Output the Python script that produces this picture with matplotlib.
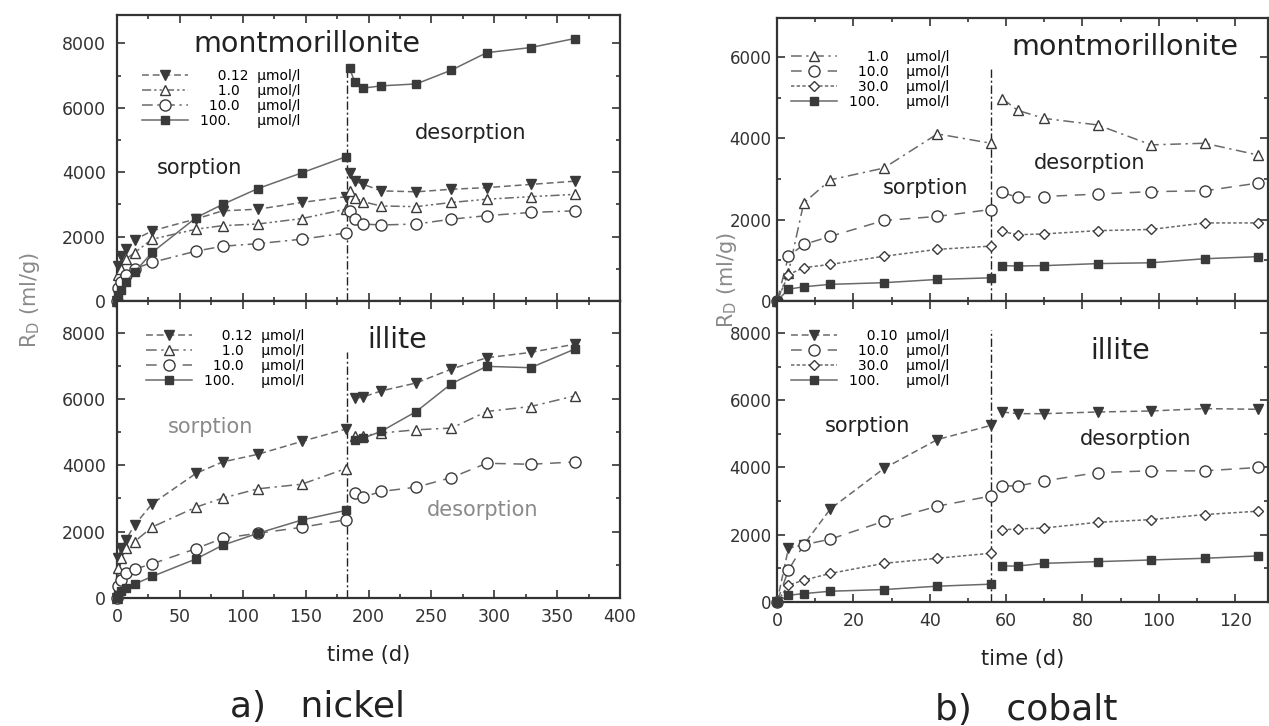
import numpy as np
import matplotlib.pyplot as plt
from matplotlib.lines import Line2D
from matplotlib.legend_handler import HandlerLine2D
from matplotlib.ticker import MultipleLocator

# ---- nickel: time axes (d) ----
ni_sorp_t = [0, 1, 3, 7, 14, 28, 63, 84, 112, 147, 182]
ni_mont_desorp_t = [185, 189, 196, 210, 238, 266, 294, 329, 364]
ni_ill_desorp_t = [189, 196, 210, 238, 266, 294, 329, 364]

# nickel / montmorillonite, R_D (ml/g)
ni_mont_conc = ["0.12", "1.0", "10.0", "100."]
ni_mont_sorp = [
    [0, 1100, 1400, 1600, 1900, 2180, 2550, 2800, 2850, 3060, 3240],
    [0, 800, 1000, 1300, 1500, 1920, 2230, 2340, 2390, 2560, 2850],
    [0, 400, 600, 800, 1000, 1200, 1550, 1700, 1780, 1920, 2110],
    [0, 200, 350, 600, 900, 1510, 2590, 3000, 3490, 3980, 4480],
]
ni_mont_desorp = [
    [3960, 3720, 3620, 3420, 3390, 3470, 3520, 3620, 3720],
    [3420, 3200, 3080, 2950, 2930, 3060, 3160, 3240, 3310],
    [2800, 2540, 2390, 2360, 2390, 2540, 2650, 2750, 2800],
    [7220, 6810, 6610, 6680, 6740, 7170, 7710, 7870, 8150],
]

# nickel / illite
ni_ill_conc = ["0.12", "1.0", "10.0", "100."]
ni_ill_sorp = [
    [0, 1200, 1500, 1750, 2200, 2840, 3760, 4100, 4330, 4720, 5090],
    [0, 900, 1200, 1500, 1700, 2140, 2740, 3010, 3290, 3430, 3900],
    [0, 350, 550, 750, 870, 1030, 1490, 1800, 1950, 2130, 2360],
    [0, 100, 200, 300, 420, 650, 1180, 1590, 1950, 2350, 2640],
]
ni_ill_desorp = [
    [6020, 6060, 6240, 6480, 6900, 7240, 7400, 7650],
    [4870, 4890, 4970, 5070, 5120, 5620, 5770, 6090],
    [3170, 3040, 3210, 3340, 3630, 4060, 4030, 4100],
    [4760, 4820, 5020, 5620, 6460, 6980, 6940, 7500],
]

# ---- cobalt ----
co_sorp_t = [0, 3, 7, 14, 28, 42, 56]
co_desorp_t = [59, 63, 70, 84, 98, 112, 126]

co_mont_conc = ["1.0", "10.0", "30.0", "100."]
co_mont_sorp = [
    [0, 700, 2410, 2980, 3270, 4110, 3880],
    [0, 1100, 1390, 1590, 1980, 2080, 2250],
    [0, 650, 820, 900, 1100, 1270, 1350],
    [0, 290, 350, 410, 450, 530, 570],
]
co_mont_desorp = [
    [4980, 4690, 4490, 4330, 3840, 3880, 3590],
    [2670, 2550, 2570, 2630, 2690, 2710, 2900],
    [1710, 1630, 1650, 1730, 1760, 1920, 1920],
    [870, 860, 870, 920, 940, 1040, 1090],
]

co_ill_conc = ["0.10", "10.0", "30.0", "100."]
co_ill_sorp = [
    [0, 1600, 1700, 2770, 3970, 4830, 5250],
    [0, 950, 1700, 1870, 2400, 2850, 3150],
    [0, 500, 650, 850, 1150, 1300, 1450],
    [0, 200, 250, 320, 370, 470, 530],
]
co_ill_desorp = [
    [5650, 5600, 5600, 5650, 5680, 5750, 5730],
    [3450, 3450, 3600, 3850, 3900, 3900, 4000],
    [2150, 2170, 2200, 2370, 2450, 2600, 2700],
    [1070, 1070, 1150, 1200, 1250, 1300, 1370],
]

LINE = '#6a6a6a'
MARK = '#3a3a3a'
INK = '#222222'

DASH = (0, (4.5, 2.5))
DASHDOTDOT = (0, (6, 2, 1.5, 2, 1.5, 2))
DASHDOT = (0, (7, 3, 1.5, 3))
LONGDASH = (0, (7, 5))
FINE = (0, (2.2, 1.5))
SOLID = '-'

# (marker, filled, linestyle) per series, in the order of the conc lists
ni_mont_sty = [('v', True, DASH), ('^', False, DASHDOTDOT), ('o', False, DASHDOT), ('s', True, SOLID)]
ni_ill_sty = [('v', True, DASH), ('^', False, DASHDOT), ('o', False, LONGDASH), ('s', True, SOLID)]
co_mont_sty = [('^', False, DASHDOT), ('o', False, LONGDASH), ('D', False, FINE), ('s', True, SOLID)]
co_ill_sty = [('v', True, DASH), ('o', False, LONGDASH), ('D', False, FINE), ('s', True, SOLID)]

msize = {'v': 7, '^': 7.5, 'o': 8, 's': 6, 'D': 5.5}

W, H = 1269, 726
plt.rcParams['font.family'] = ['DejaVu Sans']
plt.rcParams['mathtext.fontset'] = 'dejavusans'
fig = plt.figure(figsize=(W / 100, H / 100), dpi=100)


def box(x0, y0, x1, y1):
    return [x0 / W, 1 - y1 / H, (x1 - x0) / W, (y1 - y0) / H]


class RightMarker(HandlerLine2D):
    def get_xdata(self, legend, xdescent, ydescent, width, height, fontsize):
        xdata = np.array([-xdescent, -xdescent + width])
        return xdata, np.array([-xdescent + width])


def conc_label(c):
    ip, fp = c.split('.')
    return '\u2007' * (3 - len(ip)) + ip + '.' + fp + '\u2007' * (2 - len(fp)) + '  \u00b5mol/l'


def panel(ax, t_s, t_d, conc, sorp, desorp, sty, xlim, ylim, xmaj, split, vtop, leg_xy):
    handles = []
    for c, rs, rd, (m, filled, ls) in zip(conc, sorp, desorp, sty):
        kw = dict(color=LINE, ls=ls, lw=1.1, marker=m, ms=msize[m], mec=MARK,
                  mfc=MARK if filled else 'white', mew=1.0, clip_on=False, zorder=3)
        h, = ax.plot(t_s, rs, label=conc_label(c), **kw)
        ax.plot(t_d, rd, **kw)
        handles.append(h)
    ax.vlines(split, 0, vtop, colors=INK, linestyles=(0, (6, 2, 1.5, 2)), lw=1.0, zorder=2)
    ax.set_xlim(*xlim)
    ax.set_ylim(*ylim)
    ax.xaxis.set_major_locator(MultipleLocator(xmaj))
    ax.xaxis.set_minor_locator(MultipleLocator(xmaj / 2))
    ax.yaxis.set_major_locator(MultipleLocator(2000))
    ax.yaxis.set_minor_locator(MultipleLocator(1000))
    ax.tick_params(which='both', direction='in', top=True, right=True,
                   labelsize=12.5, colors='#333333', width=1.2)
    ax.tick_params(which='major', length=6)
    ax.tick_params(which='minor', length=3)
    for s in ax.spines.values():
        s.set_linewidth(1.6)
        s.set_color('#333333')
    ax.legend(handles=handles, loc='upper left',
              bbox_to_anchor=(leg_xy[0] / W, 1 - leg_xy[1] / H),
              bbox_transform=fig.transFigure, frameon=False, fontsize=10,
              handlelength=3.3, handletextpad=0.9, labelspacing=0.08,
              borderpad=0, borderaxespad=0,
              handler_map={Line2D: RightMarker()})
    return ax


# nickel
ax1 = fig.add_axes(box(117, 15, 620, 301))
panel(ax1, ni_sorp_t, ni_mont_desorp_t, ni_mont_conc, ni_mont_sorp, ni_mont_desorp,
      ni_mont_sty, (0, 400), (0, 8880), 50, 183, 7300, (142, 69))
ax1.tick_params(labelbottom=False)
ax1.text(151, 7990, 'montmorillonite', fontsize=20.5, ha='center', va='center', color=INK)
ax1.text(281, 5216, 'desorption', fontsize=15, ha='center', va='center', color=INK)
ax1.text(66, 4135, 'sorption', fontsize=15, ha='center', va='center', color=INK)

ax2 = fig.add_axes(box(117, 301, 620, 598))
panel(ax2, ni_sorp_t, ni_ill_desorp_t, ni_ill_conc, ni_ill_sorp, ni_ill_desorp,
      ni_ill_sty, (0, 400), (0, 8950), 50, 183, 7400, (146, 329))
ax2.text(223, 7770, 'illite', fontsize=20.5, ha='center', va='center', color=INK)
ax2.text(74, 5150, 'sorption', fontsize=15, ha='center', va='center', color='#8a8a8a')
ax2.text(291, 2650, 'desorption', fontsize=15, ha='center', va='center', color='#8a8a8a')
ax2.set_xlabel('time (d)', fontsize=15, color=INK, labelpad=14)
for a in (ax1, ax2):
    a.tick_params(axis='y', pad=8)
ax2.tick_params(axis='x', pad=7)

# cobalt
ax3 = fig.add_axes(box(777, 18, 1268, 301))
panel(ax3, co_sorp_t, co_desorp_t, co_mont_conc, co_mont_sorp, co_mont_desorp,
      co_mont_sty, (0, 128.6), (0, 6960), 20, 56, 5750, (791, 50))
ax3.tick_params(labelbottom=False)
ax3.text(91, 6250, 'montmorillonite', fontsize=20.5, ha='center', va='center', color=INK)
ax3.text(82, 3400, 'desorption', fontsize=15, ha='center', va='center', color=INK)
ax3.text(39, 2770, 'sorption', fontsize=15, ha='center', va='center', color=INK)

ax4 = fig.add_axes(box(777, 301, 1268, 602))
panel(ax4, co_sorp_t, co_desorp_t, co_ill_conc, co_ill_sorp, co_ill_desorp,
      co_ill_sty, (0, 128.6), (0, 8950), 20, 56, 8100, (791, 329))
ax4.text(90, 7470, 'illite', fontsize=20.5, ha='center', va='center', color=INK)
ax4.text(23.6, 5220, 'sorption', fontsize=15, ha='center', va='center', color=INK)
ax4.text(94, 4860, 'desorption', fontsize=15, ha='center', va='center', color=INK)
ax4.set_xlabel('time (d)', fontsize=15, color=INK, labelpad=14)
for a in (ax3, ax4):
    a.tick_params(axis='y', pad=4, labelsize=12)
ax4.tick_params(axis='x', pad=7)

# shared y labels and captions
for x, yc in ((30, 300), (727, 280)):
    fig.text(x / W, 1 - yc / H, r'R$_\mathrm{D}$ (ml/g)', rotation=90, ha='center',
             va='center', fontsize=15, color='#8a8a8a')
fig.text(318 / W, 1 - 707 / H, 'a)   nickel', fontsize=26, ha='center', va='center', color=INK)
fig.text(1026 / W, 1 - 710 / H, 'b)   cobalt', fontsize=26, ha='center', va='center', color=INK)

fig.savefig('out.png', dpi=100)
